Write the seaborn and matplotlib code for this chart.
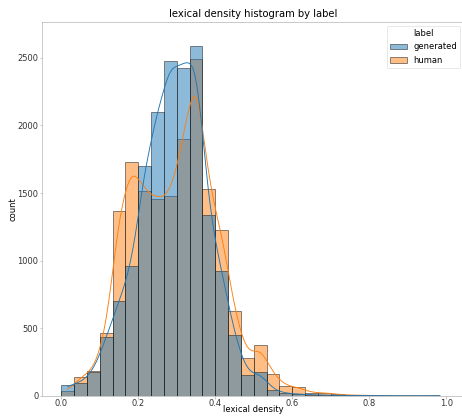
import numpy as np
import pandas as pd
import matplotlib
matplotlib.use("Agg")
import matplotlib.pyplot as plt
from matplotlib.patches import Patch
from matplotlib.colors import to_rgba
import seaborn as sns

# 30 equal bins on [0, 1]
bin_edges = np.linspace(0.0, 1.0, 31)
bin_centers = (bin_edges[:-1] + bin_edges[1:]) / 2

generated_counts = [78, 95, 178, 432, 701, 960, 1700, 2099, 2474, 2423,
                    2588, 1337, 925, 449, 153, 173, 42, 18, 12, 8,
                    5, 3, 2, 1, 1, 1, 0, 0, 0, 1]
human_counts = [35, 140, 183, 462, 1370, 1727, 1512, 1458, 1475, 1900,
                2489, 1527, 1223, 626, 278, 374, 158, 72, 62, 22,
                22, 10, 5, 3, 2, 0, 0, 0, 0, 0]
labels = ["generated", "human"]
colors = ["#1f77b4", "#ff7f0e"]

df = pd.DataFrame({
    "lexical density": np.concatenate([bin_centers, bin_centers]),
    "count": generated_counts + human_counts,
    "label": [labels[0]] * len(bin_centers) + [labels[1]] * len(bin_centers),
})

plt.rcParams["axes.edgecolor"] = "#b0b0b0"
plt.rcParams["xtick.color"] = "#b0b0b0"
plt.rcParams["ytick.color"] = "#b0b0b0"
plt.rcParams["xtick.labelcolor"] = "#333333"
plt.rcParams["ytick.labelcolor"] = "#333333"
plt.rcParams["xtick.major.size"] = 3
plt.rcParams["ytick.major.size"] = 3
plt.rcParams["xtick.major.pad"] = 0.8
plt.rcParams["ytick.major.pad"] = 1.5
plt.rcParams["legend.edgecolor"] = "#dddddd"

DPI = 60
fig = plt.figure(figsize=(462 / DPI, 417 / DPI), dpi=DPI)
ax = fig.add_axes([0.0916, 0.051, 0.914, 0.897])

edge = (0.1, 0.1, 0.1, 0.6)

# seaborn layers the first hue level on top: draw "human" first, "generated" last
target_bw = 0.021
for lab in labels[::-1]:
    sub = df[df["label"] == lab]
    w = sub["count"].to_numpy(float)
    xv = sub["lexical density"].to_numpy(float)
    v1, v2 = w.sum(), (w ** 2).sum()
    m = (w * xv).sum() / v1
    sd = np.sqrt((w * (xv - m) ** 2).sum() / (v1 - v2 / v1))
    neff = v1 ** 2 / v2
    adj = target_bw / (sd * neff ** (-0.2))
    sns.histplot(data=sub, x="lexical density", weights="count", hue="label",
                 hue_order=labels, palette=colors, bins=30, binrange=(0, 1),
                 kde=True, kde_kws={"bw_adjust": adj},
                 line_kws={"linewidth": 1.1}, alpha=0.5,
                 edgecolor=edge, linewidth=1.0, legend=False, ax=ax)

handles = [Patch(facecolor=to_rgba(c, 0.5), edgecolor=edge) for c in colors]
ax.legend(handles, labels, title="label", loc="upper right")

ax.set_xlim(-0.0494, 1.0475)
ax.set_ylim(0, 2768)
ax.set_title("lexical density histogram by label")
ax.set_xlabel("lexical density", labelpad=-3)
ax.set_ylabel("count", labelpad=0.5)

fig.savefig("out.png", dpi=DPI)
